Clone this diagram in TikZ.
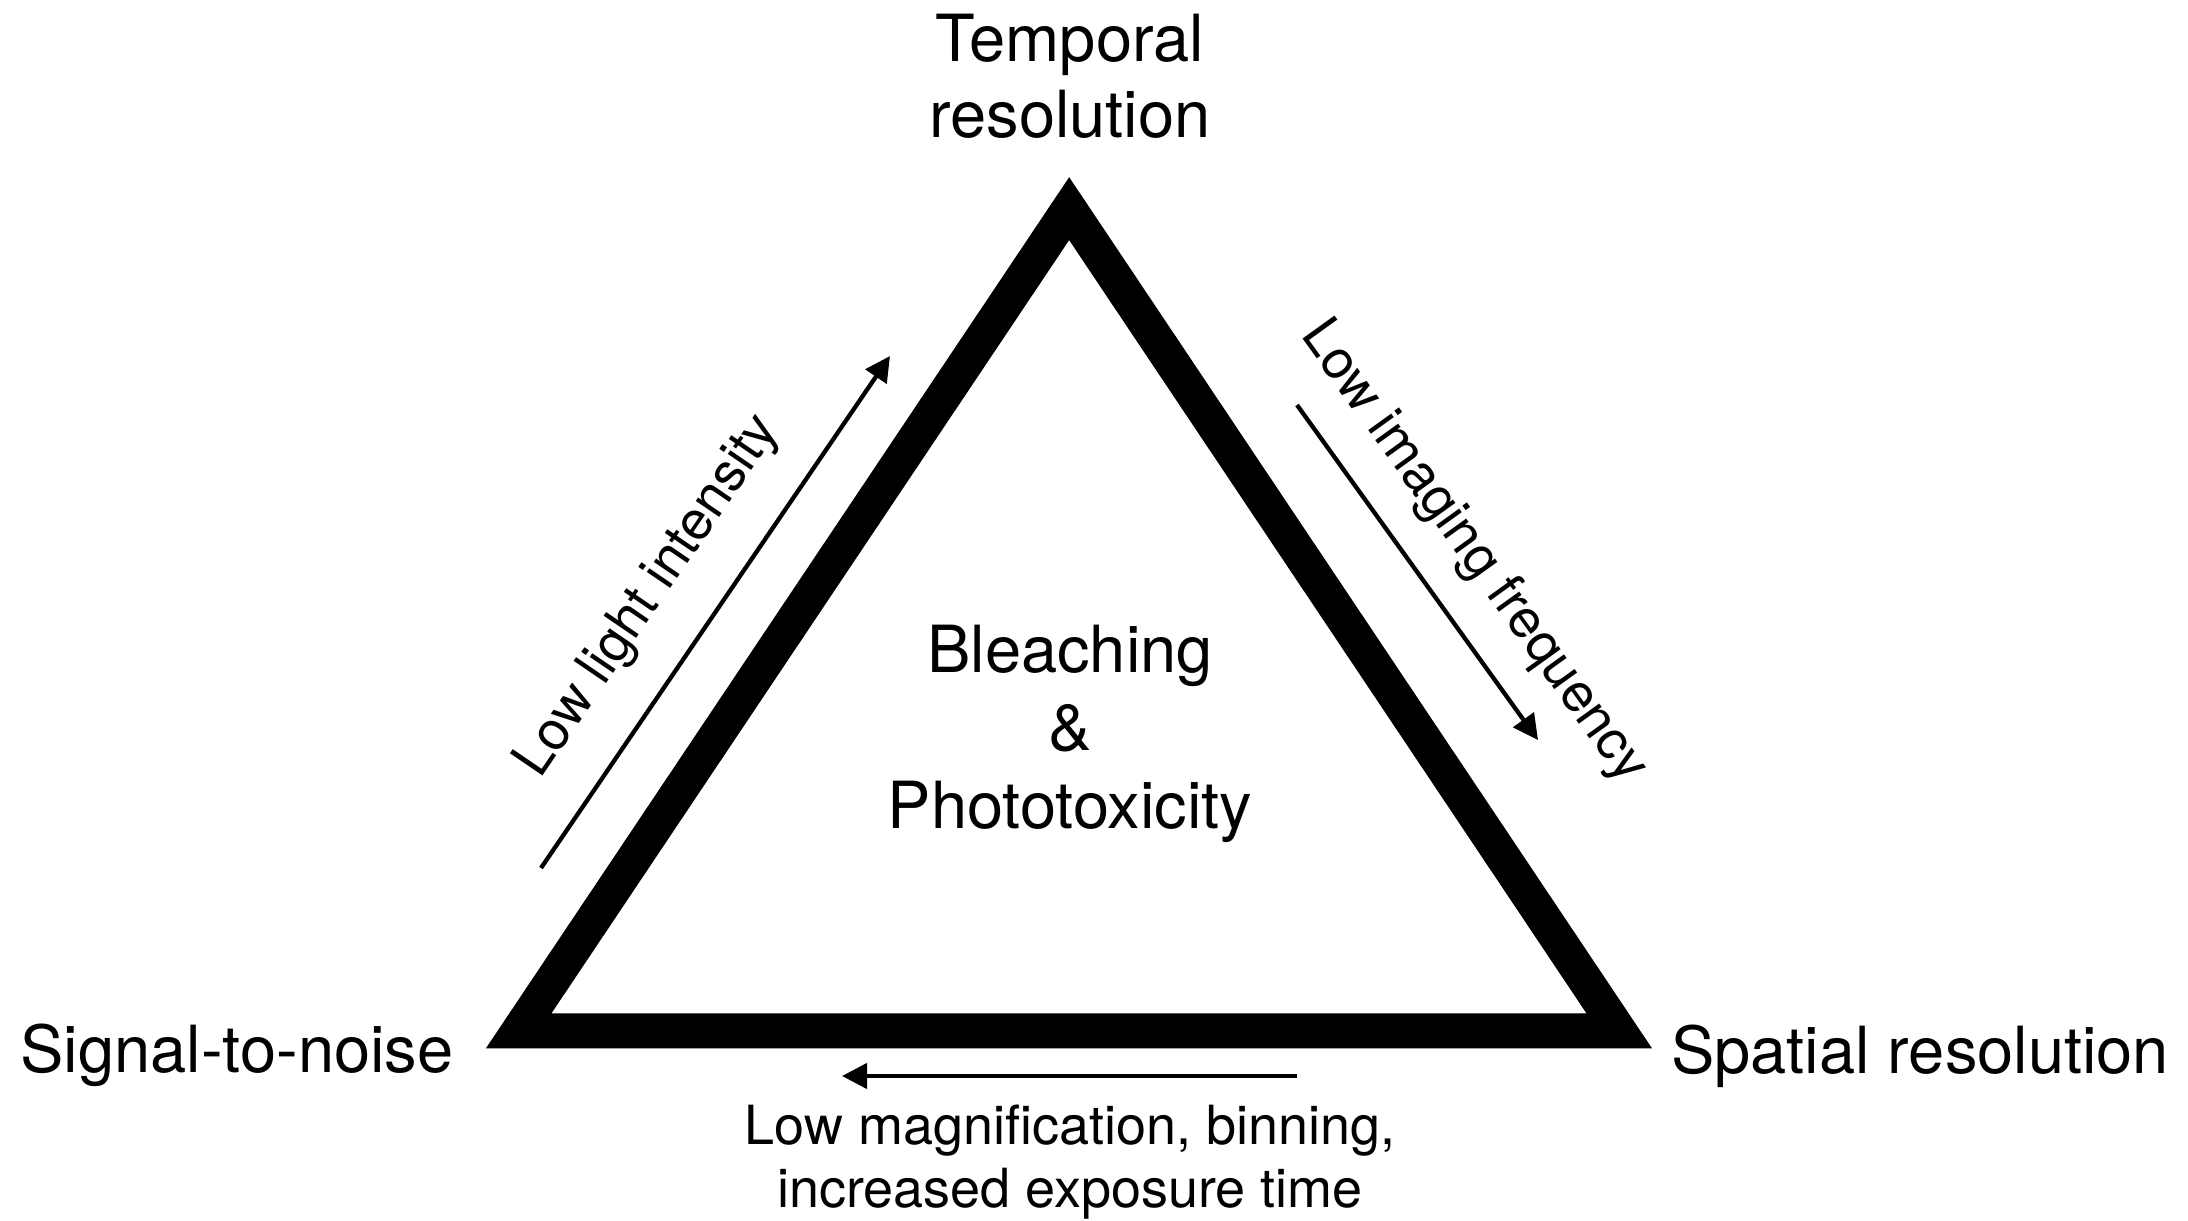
\documentclass[tikz,border=0pt]{standalone}
\usepackage{fontspec}
\setmainfont{TeX Gyre Heros}
\usetikzlibrary{arrows.meta,calc}
\begin{document}
\begin{tikzpicture}[x=0.5pt,y=-0.5pt,
  big/.style={inner sep=0pt, anchor=base, font=\fontsize{32.5pt}{39pt}\selectfont},
  small/.style={inner sep=0pt, anchor=base, font=\fontsize{27pt}{32pt}\selectfont},
  arr/.style={line width=2.15pt, -{Triangle[length=12.5pt,width=12.5pt]}},
  tri/.style={line width=17.5pt, line join=miter}]
\useasboundingbox[fill=white] (0,0) rectangle (2188,1220);

% triangle (centre line of the thick stroke)
\coordinate (tl) at (518.7,1030.8);
\coordinate (tr) at (1619.2,1030.8);
\coordinate (tt) at (1069.15,208.65);
\draw[tri] (tl) -- (tr) -- (tt) -- cycle;

% corner labels
\node[big] (temp1) at (1070,62) {Temporal};
\node[big] (temp2) at (1070,137) {resolution};
\node[big] (snr) at (237,1072) {Signal-to-noise};
\node[big] (spat) at (1920,1073) {Spatial resolution};

% centre
\node[big] (bl1) at (1070,672) {Bleaching};
\node[big] (bl2) at (1070,750) {\&};
\node[big] (bl3) at (1070,828) {Phototoxicity};

% arrows
\coordinate (la) at (541,868);
\coordinate (lb) at (890,356);
\draw[arr] (la) -- node[small, sloped, pos=0.46, anchor=base, yshift=25pt] (lli) {Low light intensity} (lb);

\coordinate (ra) at (1297,405);
\coordinate (rb) at (1538,740);
\draw[arr] (ra) -- node[small, sloped, pos=0.54, anchor=base, yshift=21.5pt] (lif) {Low imaging frequency} (rb);

\coordinate (ba) at (1297,1076);
\coordinate (bb) at (842,1076);
\draw[arr] (ba) -- (bb);
\node[small] (mag1) at (1070,1144) {Low magnification, binning,};
\node[small] (mag2) at (1070,1207) {increased exposure time};
\end{tikzpicture}
\end{document}
